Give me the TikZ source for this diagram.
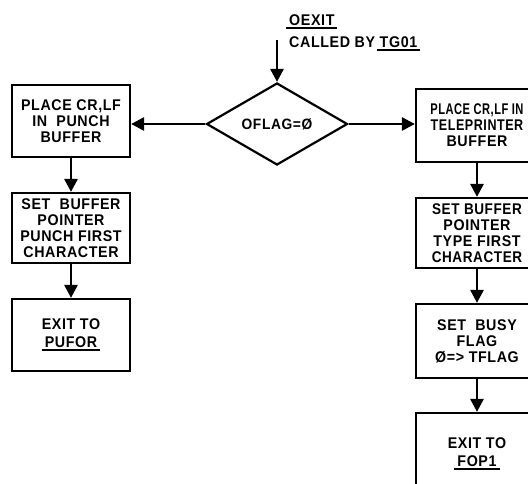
\documentclass[tikz,border=0pt]{standalone}
\usepackage{fontspec}
\setmainfont{Liberation Sans}[FakeStretch=0.92,LetterSpace=4]
\usetikzlibrary{arrows.meta,shapes.geometric}
\newsavebox\ulbox
\newcommand\myul[1]{\sbox\ulbox{#1}\leavevmode\rlap{\kern-3pt\raisebox{-3.5pt}{\rule{\dimexpr\wd\ulbox+6pt\relax}{1.8pt}}}\usebox\ulbox}
\newcommand\bx{\fontsize{15.5}{16}\selectfont\bfseries}
\newcommand\bxs{\fontsize{15}{16}\selectfont\bfseries}
\begin{document}
\begin{tikzpicture}[x=1pt,y=-1pt,
  box/.style={draw, line width=2.2pt, align=center, inner sep=0pt, font=\bx},
  lbox/.style={box, minimum width=118pt},
  rbox/.style={box, minimum width=122pt},
  arr/.style={line width=2.8pt, -{Triangle[width=13pt,length=13pt]}},
  lbl/.style={inner sep=0pt, anchor=base west, font=\bx}]
\useasboundingbox (0,0) rectangle (528,483);
\clip (0,0) rectangle (528,483);
% decision
\node[diamond, draw, line width=2.2pt, minimum width=141pt, minimum height=80pt, inner sep=0pt, font=\bxs] (d) at (277,124) {OFLAG=Ø};
\node[lbl] (oexit) at (289,25.5) {\myul{OEXIT}};
\node[lbl] (called) at (289,47) {CALLED BY \myul{TG01}};
\coordinate (in) at (277,40);
\draw[arr] (in) -- (d.north);
% left column
\node[lbox, minimum height=72pt] (l1) at (71,121) {PLACE CR,LF\\IN\ \ PUNCH\\BUFFER};
\node[lbox, minimum height=70pt] (l2) at (71,228) {SET\ \ BUFFER\\POINTER\\PUNCH FIRST\\CHARACTER};
\node[lbox, minimum height=72pt] (l3) at (71,335) {EXIT TO\\[2pt]\myul{PUFOR}};
% right column
\node[rbox, minimum height=73pt] (r1) at (477,125.5) {\scalebox{0.78}[1]{PLACE CR,LF IN}\\\scalebox{0.88}[1]{TELEPRINTER}\\BUFFER};
\node[rbox, minimum height=70pt] (r2) at (477,233) {\scalebox{0.95}[1]{SET BUFFER}\\POINTER\\TYPE FIRST\\\scalebox{0.95}[1]{CHARACTER}};
\node[rbox, minimum height=74pt] (r3) at (477,341) {SET\ \ BUSY\\FLAG\\Ø=> TFLAG};
\node[rbox, minimum height=82pt] (r4) at (477,454) {EXIT TO\\[2pt]\myul{FOP1}};
% connectors
\draw[arr] (d.west) -- (d.west -| l1.east);
\draw[arr] (d.east) -- (d.east -| r1.west);
\draw[arr] (l1.south) -- (l2.north);
\draw[arr] (l2.south) -- (l3.north);
\draw[arr] (r1.south) -- (r2.north);
\draw[arr] (r2.south) -- (r3.north);
\draw[arr] (r3.south) -- (r4.north);
\end{tikzpicture}
\end{document}
